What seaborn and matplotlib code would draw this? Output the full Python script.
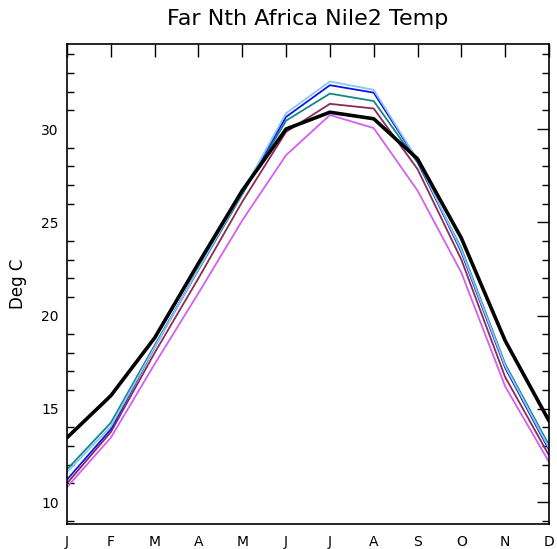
import matplotlib
matplotlib.use("Agg")
import matplotlib.pyplot as plt
import seaborn as sns
import pandas as pd
import numpy as np
from matplotlib.ticker import MultipleLocator

months = ["J", "F", "M", "A", "M", "J", "J", "A", "S", "O", "N", "D"]

obs      = [13.45, 15.7, 18.8, 22.8, 26.7, 30.0, 30.9, 30.55, 28.4, 24.15, 18.65, 14.35]
skyblue  = [11.6, 14.05, 18.3, 22.5, 26.6, 30.85, 32.55, 32.1, 28.35, 23.5, 17.3, 12.9]
blue     = [11.2, 13.9, 18.3, 22.5, 26.6, 30.65, 32.35, 31.95, 28.3, 23.4, 17.2, 12.8]
teal     = [11.75, 14.25, 18.4, 22.45, 26.5, 30.45, 31.9, 31.5, 28.2, 23.6, 17.4, 13.05]
maroon   = [11.0, 13.75, 18.0, 22.0, 26.1, 29.85, 31.35, 31.1, 27.85, 23.0, 16.7, 12.5]
orchid   = [10.8, 13.45, 17.4, 21.2, 25.1, 28.6, 30.75, 30.05, 26.7, 22.3, 16.2, 12.15]

series = {
    "orchid": orchid,
    "maroon": maroon,
    "teal": teal,
    "blue": blue,
    "skyblue": skyblue,
    "obs": obs,
}
colors = {
    "orchid": "#d35ff0",
    "maroon": "#8b2a52",
    "teal": "#10888a",
    "blue": "#0a14f0",
    "skyblue": "#8cc8ee",
    "obs": "#000000",
}
widths = {"orchid": 1.3, "maroon": 1.3, "teal": 1.3, "blue": 1.3, "skyblue": 1.3, "obs": 2.6}

rows = []
for name, vals in series.items():
    for i, v in enumerate(vals):
        rows.append({"month": i, "temp": v, "series": name})
df = pd.DataFrame(rows)

sns.set_style("white")
plt.rcParams["text.color"] = "black"
plt.rcParams["axes.labelcolor"] = "black"
plt.rcParams["xtick.color"] = "black"
plt.rcParams["ytick.color"] = "black"

fig = plt.figure(figsize=(5.57, 5.49), dpi=100)
ax = fig.add_axes([0.1203, 0.0455, 0.8653, 0.8744])

for name in series:
    sub = df[df["series"] == name]
    sns.lineplot(data=sub, x="month", y="temp", color=colors[name],
                 linewidth=widths[name], ax=ax, legend=False)

ax.set_xlim(0, 11)
ax.set_ylim(8.82, 34.56)
ax.set_xticks(range(12))
ax.set_xticklabels(months, fontsize=10)
ax.yaxis.set_major_locator(MultipleLocator(5))
ax.yaxis.set_minor_locator(MultipleLocator(1))
ax.tick_params(axis="both", which="major", direction="in", length=9, width=1,
               top=True, right=True, labelsize=10, color="black", labelcolor="black")
ax.tick_params(axis="y", which="minor", direction="in", length=5, width=1,
               left=True, right=True, color="black")
ax.tick_params(axis="x", which="major", pad=8)
ax.tick_params(axis="y", which="major", pad=6)
for s in ax.spines.values():
    s.set_color("black")
    s.set_linewidth(1.2)
ax.set_xlabel("")
ax.set_ylabel("Deg C", fontsize=12, labelpad=10, color="black")
ax.set_title("Far Nth Africa Nile2 Temp", fontsize=16, pad=14, color="black")

fig.savefig("out.png", dpi=100)
